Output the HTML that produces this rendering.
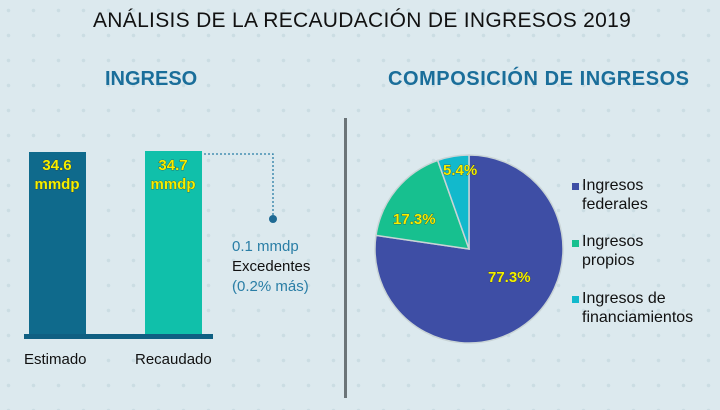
<!DOCTYPE html>
<html><head><meta charset="utf-8"><style>
html,body{margin:0;padding:0}
body{width:720px;height:410px;position:relative;overflow:hidden;background:#dce9ee;font-family:"Liberation Sans",sans-serif;
background-image:radial-gradient(circle,#cbdde3 1.6px,transparent 2px);background-size:25px 25px;background-position:-4px -2px}
.t{position:absolute;white-space:nowrap}
</style></head><body>
<div class="t" style="left:93px;top:9px;font-size:21px;color:#111;letter-spacing:0.3px">ANÁLISIS DE LA RECAUDACIÓN DE INGRESOS 2019</div>
<div class="t" style="left:105px;top:68px;font-size:20px;font-weight:bold;color:#1a6e9a">INGRESO</div>
<div class="t" style="left:388px;top:68px;font-size:20px;font-weight:bold;color:#1a6e9a;letter-spacing:0.55px">COMPOSICIÓN DE INGRESOS</div>
<div style="position:absolute;left:344px;top:118px;width:3px;height:280px;background:#6b7478"></div>
<svg width="720" height="410" style="position:absolute;left:0;top:0">
<rect x="29" y="152" width="57" height="184" fill="#0f6a8c"/>
<rect x="145" y="151" width="57" height="185" fill="#10c0aa"/>
<rect x="24" y="334" width="189" height="5" fill="#0f5f82"/>
<polyline points="204,154 273,154 273,218" fill="none" stroke="#2a7ea6" stroke-width="1.3" stroke-dasharray="2,2"/>
<circle cx="273" cy="219" r="4" fill="#1e6a94"/>
<g stroke="#c9d4d6" stroke-width="1.5">
<path d="M469,249 L469,155 A94,94 0 1 1 376,235.4 Z" fill="#3e4ea5"/>
<path d="M469,249 L376,235.4 A94,94 0 0 1 437.7,160.4 Z" fill="#17c08f"/>
<path d="M469,249 L437.7,160.4 A94,94 0 0 1 469,155 Z" fill="#12b9cc"/>
</g>
<g font-family="Liberation Sans,sans-serif" font-weight="bold" fill="#f3f000" stroke="#333" stroke-width="0.6" paint-order="stroke" font-size="15">
<text x="57" y="170" text-anchor="middle">34.6</text>
<text x="57" y="189" text-anchor="middle">mmdp</text>
<text x="173" y="170" text-anchor="middle">34.7</text>
<text x="173" y="189" text-anchor="middle">mmdp</text>
<text x="393" y="224">17.3%</text>
<text x="443" y="175">5.4%</text>
<text x="488" y="282">77.3%</text>
</g>
<rect x="572" y="183" width="7" height="7" fill="#3e4ea5"/>
<rect x="572" y="240" width="7" height="7" fill="#17c08f"/>
<rect x="572" y="296" width="7" height="7" fill="#12b9cc"/>
</svg>
<div class="t" style="left:232px;top:237px;font-size:15px;line-height:20px;color:#2a7ea6">0.1 mmdp<br><span style="color:#111">Excedentes</span><br>(0.2% más)</div>
<div class="t" style="left:24px;top:351px;font-size:15px;color:#111">Estimado</div>
<div class="t" style="left:135px;top:351px;font-size:15px;color:#111">Recaudado</div>
<div class="t" style="left:582px;top:176px;font-size:16px;line-height:19px;color:#111">Ingresos<br>federales</div>
<div class="t" style="left:582px;top:232px;font-size:16px;line-height:19px;color:#111">Ingresos<br>propios</div>
<div class="t" style="left:582px;top:289px;font-size:16px;line-height:19px;color:#111">Ingresos de<br>financiamientos</div>
</body></html>
